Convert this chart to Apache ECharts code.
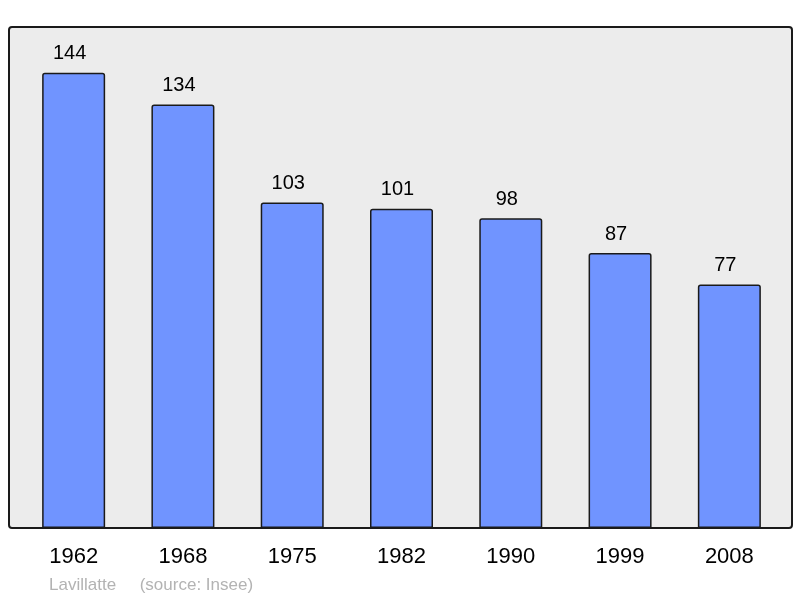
<!DOCTYPE html>
<html>
<head>
<meta charset="utf-8">
<script src="https://cdn.jsdelivr.net/npm/echarts@6/dist/echarts.min.js"></script>
<style>
html, body {margin: 0; padding: 0; background: #ffffff;}
#chart {width: 800px; height: 598px;}
</style>
</head>
<body>
<div id="chart"></div>
<script>
var years = ["1962", "1968", "1975", "1982", "1990", "1999", "2008"];
var population = [144, 134, 103, 101, 98, 87, 77];

var myChart = echarts.init(document.getElementById("chart"));
var option = {
	backgroundColor: "#ffffff",
	animation: false,
	textStyle: {fontFamily: "Liberation Sans"},
	graphic: [{
		type: "rect",
		z: -10,
		shape: {x: 9, y: 27, width: 783, height: 501, r: 3},
		style: {fill: "#ececec", stroke: "#1a1a1a", lineWidth: 2}
	}, {
		type: "text",
		left: 49,
		top: 577,
		style: {text: "Lavillatte     (source: Insee)", fill: "#b3b3b3", font: "17px 'Liberation Sans'"}
	}],
	grid: {left: 19, right: 16, top: 27, bottom: 70},
	xAxis: {
		type: "category",
		data: years,
		axisLine: {show: false},
		axisTick: {show: false},
		axisLabel: {color: "#000000", fontSize: 22, margin: 18}
	},
	yAxis: {
		type: "value",
		min: 0,
		max: 158.5,
		show: false,
		splitLine: {show: false}
	},
	series: [{
		type: "bar",
		data: population,
		barWidth: 63,
		itemStyle: {color: "#7094ff", borderColor: "#1a1a1a", borderWidth: 1.5, borderRadius: [2, 2, 0, 0]},
		label: {show: true, position: "top", distance: 9, offset: [-4, 0], color: "#000000", fontSize: 20}
	}]
};
myChart.setOption(option);
</script>
</body>
</html>
